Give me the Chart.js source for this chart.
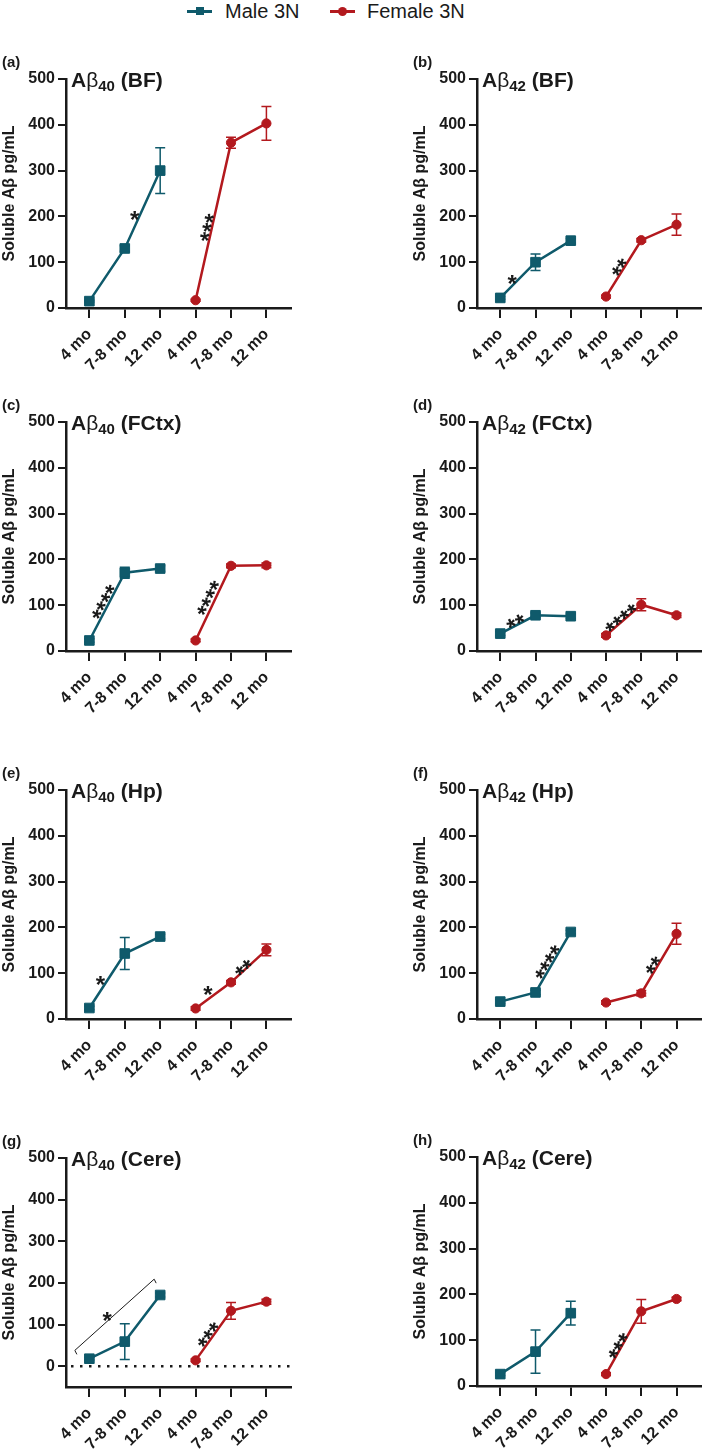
<!DOCTYPE html>
<html>
<head>
<meta charset="utf-8">
<script src="https://cdn.jsdelivr.net/npm/chart.js@4.4.1/dist/chart.umd.min.js"></script>
<style>
  body { margin: 0; background: #fff; width: 709px; height: 1451px; position: relative; overflow: hidden;
         font-family: "Liberation Sans", Arial, sans-serif; color: #1a1a1a; }
  canvas { position: absolute; }
  .key { position: absolute; top: 0; height: 22px; line-height: 22px; font-size: 20px; }
  .ln { position: absolute; top: 10px; width: 25px; height: 2.5px; }
  .sq { position: absolute; top: 7px; width: 8px; height: 8px; }
  .dot { position: absolute; top: 6.5px; width: 9px; height: 9px; border-radius: 50%; }
</style>
</head>
<body>
<div class="ln" style="left:187px;background:#0f5a6b"></div>
<div class="sq" style="left:195.5px;background:#0f5a6b"></div>
<div class="key" style="left:225px">Male 3N</div>
<div class="ln" style="left:330px;background:#b3191e"></div>
<div class="dot" style="left:338px;background:#b3191e"></div>
<div class="key" style="left:367px">Female 3N</div>

<canvas id="pa" width="299" height="339"></canvas>
<canvas id="pb" width="298" height="339"></canvas>
<canvas id="pc" width="299" height="339"></canvas>
<canvas id="pd" width="298" height="339"></canvas>
<canvas id="pe" width="299" height="339"></canvas>
<canvas id="pf" width="298" height="339"></canvas>
<canvas id="pg" width="299" height="339"></canvas>
<canvas id="ph" width="298" height="339"></canvas>

<script>
// x categories: male 3N then female 3N
const ageLabels = ['4 mo', '7-8 mo', '12 mo', '4 mo', '7-8 mo', '12 mo'];
const maleX = [0, 1, 2];
const femaleX = [3, 4, 5];
const yTicks = [0, 100, 200, 300, 400, 500];

// soluble Abeta pg/mL, mean and SEM
const bf40Male = [15, 130, 300];
const bf40MaleSem = [2, 6, 50];
const bf40Female = [17, 361, 403];
const bf40FemaleSem = [2, 12, 37];

const bf42Male = [22, 100, 147];
const bf42MaleSem = [3, 18, 5];
const bf42Female = [25, 148, 182];
const bf42FemaleSem = [3, 4, 23];

const fctx40Male = [23, 171, 180];
const fctx40MaleSem = [4, 12, 6];
const fctx40Female = [23, 186, 187];
const fctx40FemaleSem = [3, 4, 5];

const fctx42Male = [38, 78, 76];
const fctx42MaleSem = [4, 5, 5];
const fctx42Female = [34, 101, 78];
const fctx42FemaleSem = [4, 13, 5];

const hp40Male = [24, 143, 180];
const hp40MaleSem = [4, 35, 5];
const hp40Female = [23, 80, 151];
const hp40FemaleSem = [4, 4, 13];

const hp42Male = [38, 58, 190];
const hp42MaleSem = [4, 5, 4];
const hp42Female = [36, 56, 186];
const hp42FemaleSem = [4, 6, 23];

const cere40Male = [18, 59, 171];
const cere40MaleSem = [3, 43, 5];
const cere40Female = [14, 133, 155];
const cere40FemaleSem = [3, 20, 6];

const cere42Male = [26, 75, 159];
const cere42MaleSem = [3, 47, 26];
const cere42Female = [26, 163, 190];
const cere42FemaleSem = [3, 26, 4];

const teal = '#0f5a6b';
const red = '#b3191e';
const ink = '#1a1a1a';
const font = '"Liberation Sans", Arial, sans-serif';
Chart.defaults.font.family = font;
Chart.defaults.color = ink;

// page placement of each panel canvas
const colLeft = [0, 411];
const rowTop = [39, 382, 750, 1118];

const panels = [
  { id: 'pa', letter: '(a)', pep: '40', region: 'BF', col: 0, row: 0,
    male: bf40Male, maleSem: bf40MaleSem, female: bf40Female, femaleSem: bf40FemaleSem,
    stars: [{ text: '*', x: 1.28, y: 204, rot: 0 }, { text: '***', x: 3.27, y: 177, rot: -76 }] },
  { id: 'pb', letter: '(b)', pep: '42', region: 'BF', col: 1, row: 0,
    male: bf42Male, maleSem: bf42MaleSem, female: bf42Female, femaleSem: bf42FemaleSem,
    stars: [{ text: '*', x: 0.34, y: 65, rot: 0 }, { text: '**', x: 3.32, y: 92, rot: -57 }] },
  { id: 'pc', letter: '(c)', pep: '40', region: 'FCtx', col: 0, row: 1,
    male: fctx40Male, maleSem: fctx40MaleSem, female: fctx40Female, femaleSem: fctx40FemaleSem,
    stars: [{ text: '****', x: 0.34, y: 110, rot: -62 }, { text: '****', x: 3.3, y: 118, rot: -64 }] },
  { id: 'pd', letter: '(d)', pep: '42', region: 'FCtx', col: 1, row: 1,
    male: fctx42Male, maleSem: fctx42MaleSem, female: fctx42Female, femaleSem: fctx42FemaleSem,
    stars: [{ text: '**', x: 0.4, y: 69, rot: -27 }, { text: '****', x: 3.38, y: 76, rot: -40 }] },
  { id: 'pe', letter: '(e)', pep: '40', region: 'Hp', col: 0, row: 2,
    male: hp40Male, maleSem: hp40MaleSem, female: hp40Female, femaleSem: hp40FemaleSem,
    stars: [{ text: '*', x: 0.31, y: 87, rot: 0 }, { text: '*', x: 3.35, y: 65, rot: 0 },
            { text: '**', x: 4.31, y: 116, rot: -42 }] },
  { id: 'pf', letter: '(f)', pep: '42', region: 'Hp', col: 1, row: 2,
    male: hp42Male, maleSem: hp42MaleSem, female: hp42Female, femaleSem: hp42FemaleSem,
    stars: [{ text: '****', x: 1.28, y: 127, rot: -59 }, { text: '**', x: 4.28, y: 120, rot: -59 }] },
  { id: 'pg', letter: '(g)', pep: '40', region: 'Cere', col: 0, row: 3, yMin: -50, zeroLine: true,
    male: cere40Male, maleSem: cere40MaleSem, female: cere40Female, femaleSem: cere40FemaleSem,
    bracket: { x1: -0.41, y1: 38, x2: 1.83, y2: 209 },
    stars: [{ text: '*', x: 0.5, y: 123, rot: 0 }, { text: '***', x: 3.3, y: 79, rot: -54 }] },
  { id: 'ph', letter: '(h)', pep: '42', region: 'Cere', col: 1, row: 3,
    male: cere42Male, maleSem: cere42MaleSem, female: cere42Female, femaleSem: cere42FemaleSem,
    stars: [{ text: '***', x: 3.29, y: 90, rot: -60 }] }
];

// SEM whiskers, drawn under the markers
const errorBars = {
  id: 'errorBars',
  beforeDatasetsDraw(chart) {
    const { ctx, scales: { x, y } } = chart;
    chart.data.datasets.forEach(ds => {
      ctx.save();
      ctx.strokeStyle = ds.borderColor;
      ctx.lineWidth = 1.5;
      ds.data.forEach((p, i) => {
        const e = ds.sem[i];
        const px = x.getPixelForValue(p.x);
        const top = y.getPixelForValue(p.y + e);
        const bot = y.getPixelForValue(p.y - e);
        ctx.beginPath();
        ctx.moveTo(px, top); ctx.lineTo(px, bot);
        ctx.moveTo(px - 5, top); ctx.lineTo(px + 5, top);
        ctx.moveTo(px - 5, bot); ctx.lineTo(px + 5, bot);
        ctx.stroke();
      });
      ctx.restore();
    });
  }
};

// panel letter, title with subscript, zero line, bracket and significance stars
const decorations = {
  id: 'decorations',
  beforeDatasetsDraw(chart) {
    const cfg = chart.options.plugins.decorations;
    const { ctx, chartArea, scales: { y } } = chart;
    if (cfg.zeroLine) {
      ctx.save();
      ctx.strokeStyle = ink;
      ctx.lineWidth = 2.5;
      ctx.setLineDash([2.5, 6.5]);
      ctx.beginPath();
      ctx.moveTo(chartArea.left + 5, y.getPixelForValue(0));
      ctx.lineTo(chartArea.right, y.getPixelForValue(0));
      ctx.stroke();
      ctx.restore();
    }
  },
  afterDraw(chart) {
    const cfg = chart.options.plugins.decorations;
    const { ctx, chartArea, scales: { x, y } } = chart;
    ctx.save();
    ctx.fillStyle = ink;
    ctx.textBaseline = 'alphabetic';
    ctx.font = 'bold 15px ' + font;
    ctx.fillText(cfg.letter, 2, chartArea.top - 12);

    let tx = chartArea.left + 5;
    const ty = chartArea.top + 8;
    ctx.font = 'bold 21px ' + font;
    ctx.fillText('A', tx, ty);
    tx += ctx.measureText('A').width;
    ctx.font = '21px ' + font;
    ctx.fillText('β', tx, ty);
    tx += ctx.measureText('β').width;
    ctx.font = 'bold 15px ' + font;
    ctx.fillText(cfg.pep, tx, ty + 4);
    tx += ctx.measureText(cfg.pep).width;
    ctx.font = 'bold 21px ' + font;
    ctx.fillText(' (' + cfg.region + ')', tx, ty);

    if (cfg.bracket) {
      const b = cfg.bracket;
      const x1 = x.getPixelForValue(b.x1), y1 = y.getPixelForValue(b.y1);
      const x2 = x.getPixelForValue(b.x2), y2 = y.getPixelForValue(b.y2);
      ctx.strokeStyle = ink;
      ctx.lineWidth = 1;
      ctx.beginPath();
      ctx.moveTo(x1 + 2, y1 + 4); ctx.lineTo(x1, y1);
      ctx.lineTo(x2, y2); ctx.lineTo(x2 + 2, y2 + 4);
      ctx.stroke();
    }

    cfg.stars.forEach(s => {
      ctx.save();
      ctx.translate(x.getPixelForValue(s.x), y.getPixelForValue(s.y));
      ctx.rotate(s.rot * Math.PI / 180);
      ctx.font = 'bold 24px ' + font;
      ctx.textAlign = 'center';
      ctx.fillText(s.text, 0, 24 * 0.58);
      ctx.restore();
    });
    ctx.restore();
  }
};

function series(label, xs, ys, sem, color, style, radius) {
  return {
    label: label,
    data: ys.map((v, i) => ({ x: xs[i], y: v })),
    sem: sem,
    borderColor: color,
    backgroundColor: color,
    borderWidth: 2.5,
    pointStyle: style,
    pointRadius: radius,
    pointBorderWidth: 1,
    pointBorderColor: color,
    pointBackgroundColor: color
  };
}

panels.forEach(p => {
  const canvas = document.getElementById(p.id);
  canvas.style.left = colLeft[p.col] + 'px';
  canvas.style.top = rowTop[p.row] - (p.col === 1 && p.row === 3 ? 1 : 0) + 'px';
  new Chart(canvas, {
    type: 'line',
    data: {
      datasets: [
        series('Male 3N', maleX, p.male, p.maleSem, teal, 'rect', 6.8),
        series('Female 3N', femaleX, p.female, p.femaleSem, red, 'circle', 4.6)
      ]
    },
    plugins: [errorBars, decorations],
    options: {
      responsive: false,
      animation: false,
      layout: { padding: { top: 40, left: 0, right: p.col === 0 ? 2 : 1, bottom: 0 } },
      plugins: {
        legend: { display: false },
        tooltip: { enabled: false },
        decorations: p
      },
      scales: {
        x: {
          type: 'linear',
          min: -0.66,
          max: 5.7,
          afterBuildTicks: s => { s.ticks = ageLabels.map((_, i) => ({ value: i })); },
          afterFit: s => { s.height = 70; s.paddingLeft = 0; s.paddingRight = 0; },
          ticks: {
            callback: v => ageLabels[v],
            autoSkip: false,
            minRotation: 45,
            maxRotation: 45,
            padding: 7,
            color: ink,
            font: { size: 16, weight: 'bold' }
          },
          grid: { drawOnChartArea: false, tickLength: 10, color: ink, lineWidth: 2 },
          border: { color: ink, width: 2.5 }
        },
        y: {
          min: p.yMin || 0,
          max: 500,
          afterBuildTicks: s => { s.ticks = yTicks.map(v => ({ value: v })); },
          afterFit: s => { s.width = 66; s.paddingTop = 0; s.paddingBottom = 0; },
          ticks: { padding: 3, color: ink, font: { size: 16, weight: 'bold' } },
          grid: { drawOnChartArea: false, tickLength: 8, color: ink, lineWidth: 2 },
          border: { color: ink, width: 2.5 },
          title: {
            display: true,
            text: 'Soluble Aβ pg/mL',
            color: ink,
            padding: 0,
            font: { size: 16, weight: 'bold' }
          }
        }
      }
    }
  });
});
</script>
</body>
</html>
